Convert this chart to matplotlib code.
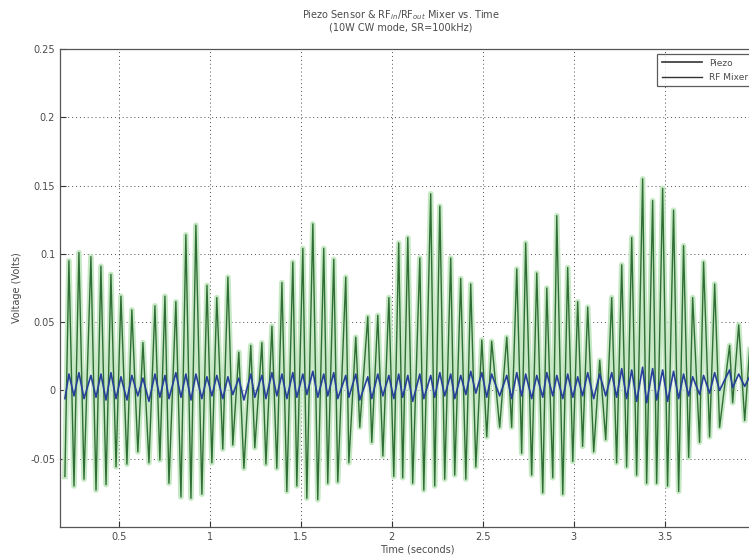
import matplotlib
matplotlib.use("Agg")
import matplotlib.pyplot as plt

# ---------------------------------------------------------------
# values (extremes of each stroke)
# ---------------------------------------------------------------
rf_time = [0.203, 0.225, 0.253, 0.280, 0.308, 0.346, 0.374, 0.401, 0.429, 0.456,
           0.484, 0.511, 0.544, 0.571, 0.604, 0.632, 0.665, 0.698, 0.725, 0.753,
           0.775, 0.813, 0.841, 0.868, 0.896, 0.923, 0.956, 0.984, 1.011, 1.038,
           1.071, 1.099, 1.126, 1.159, 1.187, 1.225, 1.247, 1.286, 1.308, 1.341,
           1.368, 1.396, 1.423, 1.456, 1.478, 1.511, 1.533, 1.566, 1.593, 1.626,
           1.648, 1.681, 1.703, 1.747, 1.764, 1.802, 1.824, 1.868, 1.890, 1.923,
           1.951, 1.984, 2.011, 2.038, 2.060, 2.088, 2.115, 2.154, 2.176, 2.214,
           2.236, 2.264, 2.291, 2.324, 2.346, 2.379, 2.407, 2.434, 2.462, 2.495,
           2.522, 2.549, 2.593, 2.632, 2.659, 2.687, 2.714, 2.736, 2.769, 2.797,
           2.830, 2.852, 2.885, 2.907, 2.940, 2.967, 2.995, 3.022, 3.049, 3.077,
           3.110, 3.143, 3.176, 3.209, 3.236, 3.264, 3.291, 3.319, 3.346, 3.379,
           3.401, 3.434, 3.456, 3.489, 3.516, 3.549, 3.577, 3.604, 3.632, 3.654,
           3.692, 3.714, 3.747, 3.775, 3.802, 3.857, 3.874, 3.907, 3.940, 3.967]

rf_mixer = [-0.063, 0.095, -0.070, 0.101, -0.065, 0.098, -0.073, 0.091, -0.069, 0.085,
            -0.056, 0.069, -0.054, 0.059, -0.045, 0.035, -0.053, 0.062, -0.051, 0.069,
            -0.068, 0.065, -0.078, 0.114, -0.079, 0.121, -0.076, 0.077, -0.053, 0.068,
            -0.043, 0.083, -0.040, 0.028, -0.057, 0.033, -0.042, 0.035, -0.054, 0.047,
            -0.057, 0.079, -0.074, 0.094, -0.070, 0.104, -0.079, 0.122, -0.080, 0.104,
            -0.068, 0.096, -0.067, 0.083, -0.053, 0.039, -0.027, 0.054, -0.038, 0.055,
            -0.048, 0.068, -0.063, 0.108, -0.064, 0.112, -0.068, 0.097, -0.073, 0.144,
            -0.070, 0.135, -0.065, 0.097, -0.062, 0.082, -0.065, 0.078, -0.056, 0.037,
            -0.034, 0.036, -0.027, 0.039, -0.027, 0.089, -0.046, 0.108, -0.062, 0.086,
            -0.075, 0.075, -0.064, 0.128, -0.076, 0.090, -0.052, 0.065, -0.041, 0.061,
            -0.045, 0.022, -0.036, 0.068, -0.053, 0.092, -0.056, 0.112, -0.062, 0.155,
            -0.068, 0.139, -0.068, 0.148, -0.070, 0.132, -0.074, 0.106, -0.049, 0.068,
            -0.038, 0.094, -0.034, 0.078, -0.027, 0.033, -0.009, 0.048, -0.022, 0.030]

piezo = [-0.006, 0.012, -0.004, 0.013, -0.006, 0.011, -0.005, 0.012, -0.007, 0.013,
         -0.006, 0.010, -0.007, 0.011, -0.004, 0.009, -0.008, 0.012, -0.005, 0.011,
         -0.006, 0.013, -0.005, 0.012, -0.007, 0.012, -0.006, 0.010, -0.004, 0.011,
         -0.006, 0.010, -0.003, 0.009, -0.007, 0.012, -0.005, 0.011, -0.006, 0.013,
         -0.004, 0.012, -0.006, 0.013, -0.005, 0.012, -0.003, 0.014, -0.005, 0.012,
         -0.004, 0.013, -0.006, 0.011, -0.005, 0.012, -0.007, 0.010, -0.006, 0.012,
         -0.004, 0.011, -0.006, 0.012, -0.005, 0.011, -0.008, 0.012, -0.006, 0.011,
         -0.005, 0.013, -0.004, 0.012, -0.006, 0.011, -0.003, 0.014, -0.002, 0.013,
         -0.005, 0.012, -0.004, 0.011, -0.006, 0.013, -0.004, 0.012, -0.006, 0.011,
         -0.005, 0.013, -0.004, 0.011, -0.006, 0.012, -0.005, 0.010, -0.004, 0.013,
         -0.006, 0.012, -0.004, 0.013, -0.005, 0.016, -0.006, 0.015, -0.008, 0.017,
         -0.009, 0.016, -0.007, 0.015, -0.008, 0.014, -0.006, 0.012, -0.004, 0.010,
         -0.003, 0.011, -0.002, 0.013, 0.000, 0.015, 0.002, 0.012, 0.003, 0.010]

x_ticks = [0.5, 1, 1.5, 2, 2.5, 3, 3.5]
x_tick_labels = ["0.5", "1", "1.5", "2", "2.5", "3", "3.5"]
y_ticks = [-0.05, 0, 0.05, 0.1, 0.15, 0.2, 0.25]
y_tick_labels = ["-0.05", "0", "0.05", "0.1", "0.15", "0.2", "0.25"]

# ---------------------------------------------------------------
txt = "#4a4a4a"
fig = plt.figure(figsize=(7.49, 5.57), dpi=100)
# right edge of the axes runs past the picture, as in the cropped original
ax = fig.add_axes([0.0801, 0.0539, 0.953, 0.858])

ax.plot(rf_time, rf_mixer, color="#c6e8c4", linewidth=4.0, zorder=2)
l_rf, = ax.plot(rf_time, rf_mixer, color="#2f6e34", linewidth=1.0, zorder=3,
                label="RF Mixer")
l_pz, = ax.plot(rf_time, piezo, color="#27409a", linewidth=1.2, zorder=4,
                label="Piezo")

ax.set_xlim(0.176, 4.1)
ax.set_ylim(-0.1, 0.25)
ax.set_xticks(x_ticks)
ax.set_xticklabels(x_tick_labels)
ax.set_yticks(y_ticks)
ax.set_yticklabels(y_tick_labels)
ax.tick_params(direction="in", labelsize=7, colors="#333333", labelcolor=txt,
               length=4, width=0.8)
ax.grid(True, linestyle=(0, (1, 3)), color="#222222", linewidth=0.7, alpha=0.8)
for s in ax.spines.values():
    s.set_color("#555555")
    s.set_linewidth(0.9)

ax.set_xlabel("Time (seconds)", fontsize=7, color=txt, labelpad=2)
ax.set_ylabel("Voltage (Volts)", fontsize=7, color=txt, labelpad=6)
fig.text(0.535, 0.972, r"Piezo Sensor & RF$_{in}$/RF$_{out}$ Mixer vs. Time",
         ha="center", va="center", fontsize=7, color=txt)
fig.text(0.535, 0.950, "(10W CW mode, SR=100kHz)",
         ha="center", va="center", fontsize=7, color=txt)

leg = ax.legend(handles=[l_pz, l_rf], loc="upper left",
                bbox_to_anchor=(657 / 749, 1 - 54 / 557),
                bbox_transform=fig.transFigure, fontsize=6.5, frameon=True,
                fancybox=False, borderaxespad=0, handlelength=4.5,
                labelcolor=txt, borderpad=0.5, labelspacing=0.6)
leg.get_frame().set_edgecolor("#333333")
leg.get_frame().set_linewidth(0.9)
for h in leg.get_lines():
    h.set_color("#333333")

fig.savefig("out.png", dpi=100)
